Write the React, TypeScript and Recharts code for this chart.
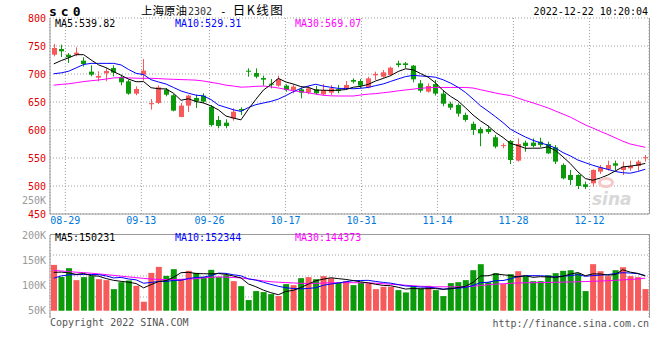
import { ComposedChart, Bar, Line, XAxis, YAxis, CartesianGrid, Cell } from "recharts";

const RED = "#f65a5a";
const GREEN = "#0a9a0a";
const GRID = "#a0a0a0";
const MONO = "'DejaVu Sans Mono', monospace";

// x tick positions (in candle-index units) and their date labels
const tickPos = [1.55, 11.7, 20.8, 30.95, 41.1, 51.25, 61.4, 71.55];
const tickLabels = ["08-29", "09-13", "09-26", "10-17", "10-31", "11-14", "11-28", "12-12"];

const opens = [
  734.5, 744.7, 734.5, 734.5, 723.8, 704.2, 693.5, 701.2, 710.7, 694.7,
  686.9, 664.9, 698.8, 646.0, 648.3, 672.0, 662.0, 623.3, 643.5, 657.2,
  661.3, 641.7, 617.9, 613.1, 620.8, 637.5, 705.9, 701.8, 692.8, 682.7,
  679.2, 679.2, 671.4, 672.6, 666.7, 672.6, 663.7, 666.7, 672.6, 673.2,
  689.3, 687.5, 676.2, 697.6, 695.2, 698.2, 719.0, 719.0, 714.9, 683.3,
  668.4, 682.0, 665.0, 647.0, 644.6, 626.8, 611.0, 601.8, 601.8, 587.0,
  571.5, 580.4, 545.3, 577.4, 577.4, 579.2, 575.0, 569.0, 537.5, 519.7,
  519.7, 503.0, 504.8, 525.6, 529.8, 540.5, 528.6, 531.6, 535.7, 550.2,
];
const closes = [
  746.4, 740.5, 729.8, 738.1, 717.9, 698.8, 696.5, 705.4, 702.4, 685.2,
  664.9, 673.3, 706.0, 648.0, 676.2, 663.1, 634.6, 643.5, 661.4, 651.3,
  650.6, 608.9, 607.2, 607.2, 632.7, 634.5, 704.2, 695.2, 689.9, 680.9,
  691.0, 671.4, 677.4, 666.7, 674.4, 665.5, 671.4, 674.4, 669.6, 680.3,
  686.3, 679.2, 692.2, 700.0, 703.0, 711.3, 716.1, 716.1, 690.5, 670.2,
  678.6, 665.0, 647.0, 639.9, 629.2, 617.9, 600.0, 594.0, 596.5, 570.3,
  573.0, 546.4, 575.0, 571.5, 571.5, 573.3, 558.3, 543.5, 513.7, 510.8,
  500.0, 498.3, 528.6, 533.4, 537.5, 536.3, 534.6, 535.7, 543.5, 551.4,
];
const highs = [
  753.6, 752.4, 737.5, 747.6, 729.8, 715.5, 704.8, 710.7, 715.5, 698.8,
  690.0, 678.0, 726.8, 655.4, 679.8, 675.0, 664.3, 648.3, 663.1, 663.1,
  665.5, 644.6, 625.0, 619.0, 638.7, 640.5, 710.1, 710.1, 697.0, 691.0,
  697.0, 681.5, 681.5, 675.6, 678.6, 678.6, 682.1, 680.3, 680.3, 687.5,
  692.3, 691.0, 695.2, 704.2, 707.1, 713.1, 723.8, 721.5, 716.1, 689.3,
  683.3, 689.3, 671.4, 650.6, 647.6, 631.0, 614.9, 605.0, 607.8, 591.1,
  576.2, 582.2, 585.0, 581.0, 585.0, 586.3, 579.2, 573.3, 540.5, 528.6,
  520.9, 507.8, 529.8, 537.5, 545.3, 545.3, 543.5, 545.3, 546.5, 555.4,
];
const lows = [
  731.6, 730.4, 719.7, 731.6, 713.1, 695.9, 687.0, 687.0, 695.9, 679.8,
  663.0, 662.0, 688.0, 636.4, 646.5, 660.2, 633.4, 622.7, 632.2, 639.4,
  647.6, 606.0, 603.0, 603.0, 616.7, 626.8, 695.2, 692.2, 679.2, 674.4,
  677.4, 668.4, 665.5, 656.6, 663.7, 663.7, 661.3, 662.5, 665.5, 671.4,
  683.3, 674.4, 674.4, 689.3, 693.4, 697.0, 711.9, 710.0, 685.1, 666.7,
  666.7, 661.5, 642.5, 635.7, 623.8, 614.9, 591.1, 571.0, 592.9, 567.3,
  567.3, 539.3, 543.5, 561.3, 569.0, 569.0, 557.0, 539.3, 511.9, 501.8,
  494.7, 494.7, 498.9, 521.5, 527.4, 527.4, 519.7, 527.4, 527.4, 543.5,
];
const ma5 = [
  718, 724, 729, 734.5, 734.5, 725, 716.2, 711.3, 704.2, 697.7,
  690.9, 686.2, 686.4, 675.5, 673.7, 673.3, 665.6, 653.1, 655.8, 650.8,
  648.3, 643.1, 635.9, 625, 621.3, 618.1, 637.2, 654.8, 671.3, 680.9,
  692.2, 685.7, 682.1, 677.5, 676.2, 671.1, 671.1, 670.5, 671.1, 672.2,
  676.4, 678, 681.5, 687.6, 692.1, 697.1, 704.5, 709.3, 707.4, 700.8,
  694.3, 683.9, 670.5, 660, 651.8, 639.7, 626.8, 616.2, 607.4, 595.6,
  586.7, 576, 572.2, 567.3, 567.5, 567.5, 569.9, 563.6, 552.1, 539.9,
  525.3, 513.3, 510.3, 514.2, 519.6, 526.8, 534.1, 535.5, 537.5, 540.3,
];
const ma10 = [
  700.5, 702, 705, 711, 717, 719, 719, 719, 719, 716.1,
  708, 701.2, 698.9, 689.8, 685.7, 682.1, 675.9, 669.7, 665.6, 662.2,
  660.8, 654.4, 644.5, 640.4, 636.1, 633.2, 640.2, 645.3, 648.2, 651.1,
  655.2, 661.4, 668.4, 674.4, 678.6, 681.7, 678.4, 676.3, 674.3, 674.2,
  673.7, 674.5, 676, 679.3, 682.2, 686.8, 691.2, 695.4, 697.5, 696.5,
  695.7, 694.2, 689.7, 683.7, 676.3, 667, 655.4, 643.2, 633.7, 623.7,
  613.2, 601.4, 594.2, 587.4, 581.6, 577.1, 573, 567.9, 559.7, 553.7,
  546.4, 541.6, 537, 533.1, 529.7, 526, 523.7, 522.9, 525.9, 529.9,
];
const ma30 = [
  680, 681.5, 682.5, 684.5, 686.5, 688, 689.3, 691, 693, 693.5,
  693, 692.5, 692.3, 692.3, 691.8, 691, 690.5, 690, 689.6, 689,
  687.5, 685, 683, 680, 678.5, 676.5, 677, 678, 678.5, 677,
  675, 672.5, 670, 668.5, 666.5, 664, 662, 661, 660.7, 660.7,
  660.7, 662.5, 664, 665, 666.5, 668, 670, 671.5, 673, 674.5,
  675.5, 676, 676, 676, 676, 676, 675, 672, 669, 666,
  663.5, 661.5, 657, 652.5, 648.5, 644, 639.5, 634, 628.5, 623,
  616, 609, 603.5, 597.5, 592, 586, 580, 575, 572, 569.1,
];

// volume, in thousands of lots
const volumes = [
  140.8, 117, 134.3, 110.6, 116.5, 118.5, 112.5, 110.6, 92.8, 106.6,
  109.9, 99.4, 67.8, 125, 136.9, 119.1, 132.3, 113.2, 129, 125,
  117, 131, 116.5, 120.4, 108.6, 98.7, 71.1, 88.9, 86.9, 82.9,
  79, 102.7, 100.7, 114.5, 116.5, 112.5, 118.5, 114.5, 106, 108.6,
  100.7, 106, 104, 92.8, 97.4, 97.4, 90.8, 86.2, 98.7, 94.1,
  99.4, 90.8, 79, 104.7, 106.6, 110.6, 130.3, 142.2, 106.6, 124.4,
  102.7, 122.4, 128.3, 119.1, 108.6, 108.6, 120.4, 124.4, 129, 130.3,
  124.4, 88.9, 142.2, 128.3, 118.5, 130.3, 136.2, 118.5, 116.5, 92.8,
];
const vma5 = [
  126, 126.5, 125, 122, 123.8, 119.4, 118.5, 113.7, 110.2, 108.2,
  106.5, 103.9, 95.3, 101.7, 107.8, 109.6, 116.2, 125.3, 126.1, 123.7,
  123.3, 123, 123.7, 122, 118.7, 115, 103.1, 97.5, 90.8, 85.7,
  81.8, 88.1, 90.4, 96, 102.7, 109.4, 112.5, 115.3, 113.6, 112,
  109.7, 107.2, 105.1, 102.4, 100.2, 99.5, 96.5, 92.9, 94.1, 93.4,
  93.8, 93.8, 92.4, 93.6, 96.1, 98.3, 106.2, 118.9, 119.3, 122.8,
  121.2, 119.7, 116.9, 119.4, 116.2, 117.4, 117, 116.2, 118.2, 122.5,
  125.7, 119.4, 123, 122.8, 120.5, 121.6, 131.1, 126.4, 124, 118.9,
];
const vma10 = [
  114.5, 119, 121, 121.5, 121.8, 121.8, 121.5, 119, 115, 116,
  112.9, 111.2, 104.5, 106, 108, 108.1, 110, 110.3, 113.9, 115.8,
  116.5, 119.6, 124.5, 124, 121.2, 119.2, 113.1, 110.6, 106.4, 102.2,
  98.4, 95.6, 94, 93.4, 94.2, 95.6, 100.3, 102.9, 104.8, 107.4,
  109.5, 109.9, 110.2, 108, 106.1, 104.6, 101.8, 99, 98.3, 96.8,
  96.7, 95.2, 92.7, 93.9, 94.8, 96.1, 100, 105.6, 106.4, 109.5,
  109.8, 113, 117.9, 119.3, 119.5, 119.3, 118.3, 116.6, 118.8, 119.4,
  121.6, 118.2, 119.6, 120.5, 121.5, 123.7, 125.3, 124.7, 123.4, 119.7,
];
const vma30 = [
  129.8, 128.8, 127.5, 126.3, 125.5, 124.3, 123, 121.5, 120, 118.5,
  117, 115.5, 114, 112.8, 112, 111.9, 111.9, 112, 112.5, 113.5,
  115, 116.3, 117, 116.5, 115.8, 115, 113, 111, 109, 107.5,
  106.5, 105.7, 105, 104.3, 104, 104.3, 104.8, 105.3, 105.5, 105.5,
  105.5, 105.3, 105.3, 104.5, 103.5, 102.5, 101.5, 100.5, 99.5, 98.5,
  97.7, 97.4, 97.4, 97.4, 97.4, 97.4, 98.5, 100, 101.5, 102.7,
  103.5, 104.3, 105, 105.4, 105.6, 105.8, 106, 106.3, 106.6, 106.9,
  107.3, 107.8, 108.3, 108.8, 109.5, 110.3, 111.1, 111.9, 113, 114.5,
];

const priceTicks = [450, 500, 550, 600, 650, 700, 750, 800];
const volTicks = [50, 100, 150, 200];
const VOL_BASE = 50;

const data = opens.map((o, i) => ({
  i,
  open: o,
  close: closes[i],
  high: highs[i],
  low: lows[i],
  range: [lows[i], highs[i]],
  ma5: ma5[i],
  ma10: ma10[i],
  ma30: ma30[i],
  vol: volumes[i],
  vrange: [VOL_BASE, volumes[i]],
  vma5: vma5[i],
  vma10: vma10[i],
  vma30: vma30[i],
}));

function Candle(props: any) {
  const { x, y, width, height, payload } = props;
  if (x == null || payload == null) return null;
  const { open, close, high, low } = payload;
  const top = Math.min(y, y + height);
  const h = Math.abs(height);
  const py = (p: number) => top + ((high - p) / (high - low)) * h;
  const color = close >= open ? RED : GREEN;
  const c = Math.floor(x + width / 2);
  const bTop = py(Math.max(open, close));
  const bBot = py(Math.min(open, close));
  return (
    <g>
      <line x1={c + 0.5} x2={c + 0.5} y1={top} y2={top + h} stroke={color} strokeWidth={1} />
      <rect x={c - 2} y={bTop} width={5} height={Math.max(1, bBot - bTop)} fill={color} />
    </g>
  );
}

const txt = (extra: any) => ({
  position: "absolute" as const,
  fontFamily: MONO,
  fontSize: 10,
  lineHeight: "10px",
  whiteSpace: "nowrap" as const,
  ...extra,
});

const CJK = "'Noto Sans CJK SC', sans-serif";

export default function App() {
  const fmtDate = (v: number) => {
    const k = tickPos.indexOf(v);
    return k >= 0 ? tickLabels[k] : "";
  };
  return (
    <div style={{ position: "relative", width: 660, height: 360, background: "#fff", overflow: "hidden" }}>
      <style>{"body{margin:0}"}</style>

      {/* header */}
      <div style={txt({ left: 49, top: 5, fontSize: 13, lineHeight: "13px", fontWeight: "bold", letterSpacing: 4 })}>sc0</div>
      <div style={txt({ left: 141, top: 3, fontSize: 11.5, lineHeight: "13px", fontFamily: CJK })}>
        上海原油
        <span style={{ fontFamily: MONO, fontSize: 10, color: "#333", marginLeft: 1 }}>2302</span>
        <span style={{ fontFamily: MONO, fontSize: 11, marginLeft: 8, marginRight: 6 }}>-</span>
        <span style={{ fontSize: 12.5, letterSpacing: 1.5 }}>日K线图</span>
      </div>
      <div style={txt({ right: 12, top: 6.5 })}>2022-12-22 10:20:04</div>

      {/* price panel */}
      <div style={{ position: "absolute", left: 0, top: 0 }}>
        <ComposedChart width={660} height={240} data={data} margin={{ top: 18, right: 11, bottom: 6, left: 0 }}>
          <CartesianGrid stroke={GRID} strokeDasharray="1 2" />
          <XAxis
            dataKey="i"
            type="number"
            domain={[-0.5, 79.5]}
            ticks={tickPos}
            interval={0}
            tickFormatter={fmtDate}
            height={20}
            tickSize={0}
            tickMargin={3}
            axisLine={{ stroke: "#999" }}
            tick={{ fill: "#0078dc", fontSize: 10, fontFamily: MONO }}
          />
          <YAxis
            domain={[450, 800]}
            ticks={priceTicks}
            interval={0}
            width={50}
            tickSize={0}
            tickMargin={4}
            axisLine={{ stroke: "#999" }}
            tick={{ fill: "#e00000", fontSize: 10, fontFamily: MONO }}
            allowDataOverflow
          />
          <Bar dataKey="range" barSize={6} shape={<Candle />} isAnimationActive={false} />
          <Line dataKey="ma30" type="linear" stroke="#ff00ff" strokeWidth={1} dot={false} isAnimationActive={false} />
          <Line dataKey="ma10" type="linear" stroke="#0000ff" strokeWidth={1} dot={false} isAnimationActive={false} />
          <Line dataKey="ma5" type="linear" stroke="#000" strokeWidth={1} dot={false} isAnimationActive={false} />
        </ComposedChart>
      </div>
      <div style={{ position: "absolute", left: 649, top: 18, width: 1, height: 196, background: "#999" }} />
      <div style={txt({ left: 55, top: 18.5, color: "#000" })}>MA5:539.82</div>
      <div style={txt({ left: 175, top: 18.5, color: "#0000ff" })}>MA10:529.31</div>
      <div style={txt({ left: 295, top: 18.5, color: "#ff00ff" })}>MA30:569.07</div>
      <div style={txt({ right: 614, top: 195.5, color: "#999" })}>250K</div>

      {/* watermark */}
      <div style={{ position: "absolute", left: 598, top: 177, width: 16, height: 11, borderRadius: "50%", border: "3px solid #f6c8c8", boxSizing: "border-box" }} />
      <div style={txt({ left: 592, top: 191, fontSize: 17, lineHeight: "17px", fontFamily: "'DejaVu Sans', sans-serif", fontStyle: "italic", fontWeight: "bold", color: "#d8d8d8" })}>sina</div>

      {/* volume panel */}
      <div style={{ position: "absolute", left: 0, top: 220 }}>
        <ComposedChart width={660} height={110} data={data} margin={{ top: 15, right: 11, bottom: 12, left: 0 }}>
          <CartesianGrid stroke={GRID} strokeDasharray="1 2" horizontalPoints={[35, 56, 77]} />
          <XAxis
            dataKey="i"
            type="number"
            domain={[-0.5, 79.5]}
            ticks={tickPos}
            interval={0}
            height={0}
            tick={false}
            tickSize={0}
            axisLine={{ stroke: "#999" }}
          />
          <YAxis
            domain={[35.6, 200]}
            ticks={volTicks}
            interval={0}
            width={50}
            tickSize={0}
            tickMargin={4}
            tickFormatter={(v: number) => `${v}K`}
            axisLine={{ stroke: "#999" }}
            tick={{ fill: "#999", fontSize: 10, fontFamily: MONO }}
            allowDataOverflow
          />
          <Bar dataKey="vrange" barSize={6} isAnimationActive={false}>
            {data.map((d, k) => (
              <Cell key={k} fill={d.close >= d.open ? RED : GREEN} />
            ))}
          </Bar>
          <Line dataKey="vma30" type="linear" stroke="#ff00ff" strokeWidth={1} dot={false} isAnimationActive={false} />
          <Line dataKey="vma10" type="linear" stroke="#0000ff" strokeWidth={1} dot={false} isAnimationActive={false} />
          <Line dataKey="vma5" type="linear" stroke="#000" strokeWidth={1} dot={false} isAnimationActive={false} />
        </ComposedChart>
      </div>
      <div style={{ position: "absolute", left: 50, top: 234, width: 600, height: 1, background: "#999" }} />
      <div style={{ position: "absolute", left: 649, top: 234, width: 1, height: 84, background: "#999" }} />
      <div style={txt({ left: 55, top: 233, color: "#000" })}>MA5:150231</div>
      <div style={txt({ left: 175, top: 233, color: "#0000ff" })}>MA10:152344</div>
      <div style={txt({ left: 295, top: 233, color: "#ff00ff" })}>MA30:144373</div>

      {/* footer */}
      <div style={txt({ left: 50, top: 318, color: "#555" })}>Copyright 2022 SINA.COM</div>
      <div style={txt({ right: 11, top: 319, color: "#555" })}>http://finance.sina.com.cn</div>
    </div>
  );
}
